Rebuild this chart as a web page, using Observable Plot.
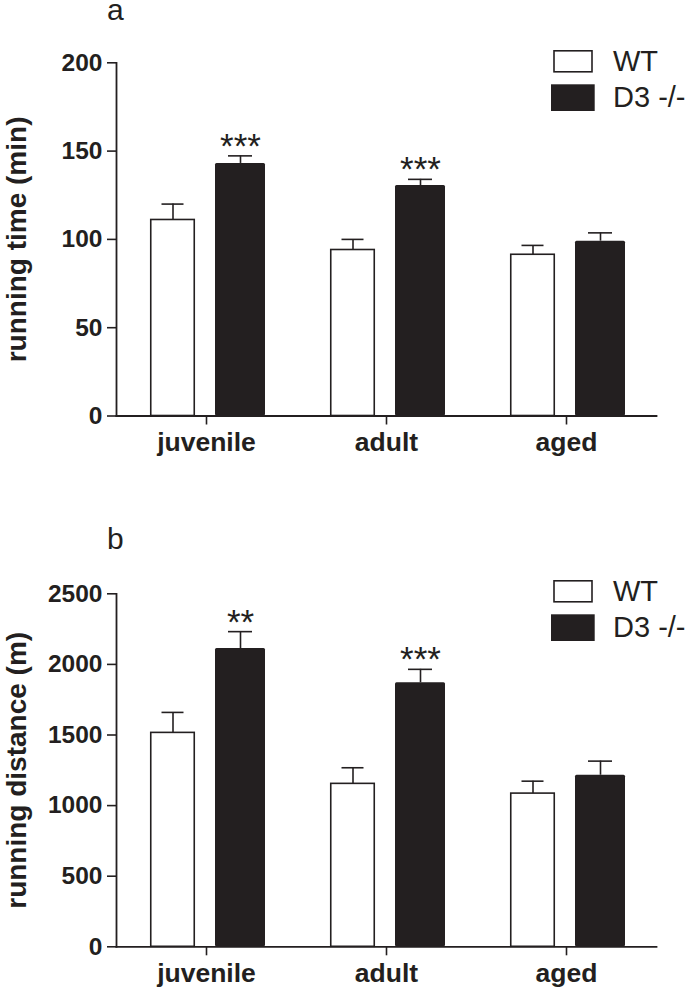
<!DOCTYPE html>
<html><head><meta charset="utf-8">
<script src="https://cdn.jsdelivr.net/npm/d3@7"></script>
<script src="https://cdn.jsdelivr.net/npm/@observablehq/plot@0.6"></script>
<style>
body{margin:0;background:#fff;}
#wrap{position:relative;width:685px;height:988px;overflow:hidden;font-family:"Liberation Sans",Arial,sans-serif;background:#fff;}
.panel{position:absolute;left:0;}
.overlay{position:absolute;left:0;pointer-events:none;}
</style></head><body><div id="wrap"></div>
<script>
// ---- data ----
const groups = ["juvenile", "adult", "aged"];
const series = ["WT", "D3 -/-"];
const seriesFill = ["white", "#231f20"];

const timeWT = [111, 94, 91.3];
const timeWTerr = [9, 6, 5.3];
const timeKO = [143, 130.5, 99];
const timeKOerr = [4.3, 3.5, 4.7];
const timeSig = ["***", "***", ""];
const timeTicks = [0, 50, 100, 150, 200];

const distWT = [1515, 1154, 1085];
const distWTerr = [145, 114, 88];
const distKO = [2112, 1870, 1215];
const distKOerr = [120, 95, 100];
const distSig = ["**", "***", ""];
const distTicks = [0, 500, 1000, 1500, 2000, 2500];

const ink = "#231f20";
const FONT = "Liberation Sans, Arial, Helvetica, sans-serif";

function rowsOf(wt, wte, ko, koe, sig) {
  return groups.flatMap((g, i) => [
    {group: g, series: series[0], mean: wt[i], err: wte[i], sig: ""},
    {group: g, series: series[1], mean: ko[i], err: koe[i], sig: sig[i]}
  ]);
}

function panel({rows, ticks, ymax, yLabel, marginTop, marginBottom, height}) {
  const wt = rows.filter(d => d.series === series[0]);
  const ko = rows.filter(d => d.series === series[1]);
  return Plot.plot({
    width: 685,
    height,
    marginLeft: 116,
    marginRight: 29,
    marginTop,
    marginBottom,
    style: {fontFamily: FONT, background: "white", color: ink, overflow: "visible"},
    x: {type: "band", domain: groups, padding: 0},
    y: {domain: [0, ymax]},
    marks: [
      Plot.barY(wt, {x: "group", y: "mean", fill: seriesFill[0], stroke: ink, strokeWidth: 1.6, insetLeft: 34.75, insetRight: 101.75}),
      Plot.barY(ko, {x: "group", y: "mean", fill: seriesFill[1], insetLeft: 99, insetRight: 31, rx: 1.5}),
      Plot.ruleX(wt, {x: "group", y1: "mean", y2: d => d.mean + d.err, dx: -33.5, stroke: ink, strokeWidth: 1.6}),
      Plot.ruleX(ko, {x: "group", y1: "mean", y2: d => d.mean + d.err, dx: 34, stroke: ink, strokeWidth: 1.6}),
      Plot.tickY(wt, {x: "group", y: d => d.mean + d.err, insetLeft: 45.5, insetRight: 112.5, stroke: ink, strokeWidth: 1.6}),
      Plot.tickY(ko, {x: "group", y: d => d.mean + d.err, insetLeft: 112, insetRight: 44, stroke: ink, strokeWidth: 1.6}),
      Plot.text(ko.filter(d => d.sig), {x: "group", y: d => d.mean + d.err, text: "sig", dx: 34, dy: 2, lineAnchor: "bottom", fontSize: 35, fill: ink}),
      Plot.axisY({ticks, tickFormat: d => String(d), tickSize: 9, tickPadding: 5, fontSize: 24.5, fontWeight: "bold", label: null, strokeWidth: 1.6, color: ink}),
      Plot.axisX({tickSize: 9, tickPadding: 7.5, fontSize: 26.5, fontWeight: "bold", label: null, strokeWidth: 1.6, color: ink}),
      Plot.frame({anchor: "left", stroke: ink, strokeWidth: 1.8}),
      Plot.frame({anchor: "bottom", stroke: ink, strokeWidth: 1.8}),
      Plot.text([yLabel], {frameAnchor: "left", text: d => d, rotate: -90, textAnchor: "middle", dx: -91, lineAnchor: "bottom", fontSize: 28, fontWeight: "bold", fill: ink})
    ]
  });
}

function overlay(top, letter, letterBaseline, legendTop) {
  const svg = d3.create("svg").attr("class", "overlay").attr("width", 685).attr("height", 494)
    .style("top", top + "px").style("font-family", FONT);
  svg.append("text").attr("x", 107).attr("y", letterBaseline).attr("font-size", 30).attr("fill", ink).text(letter);
  // legend
  const boxes = [
    {x: 554, y: legendTop + 0.8, w: 38, h: 21, fill: seriesFill[0], stroke: ink},
    {x: 551, y: legendTop + 34.3, w: 43.7, h: 26.7, fill: seriesFill[1], stroke: "none"}
  ];
  const baselines = [legendTop + 20.7, legendTop + 57.3];
  series.forEach((s, i) => {
    const b = boxes[i];
    svg.append("rect").attr("x", b.x).attr("y", b.y).attr("width", b.w).attr("height", b.h)
      .attr("fill", b.fill).attr("stroke", b.stroke).attr("stroke-width", 1.6);
    svg.append("text").attr("x", 613).attr("y", baselines[i]).attr("font-size", 29).attr("fill", ink).text(s);
  });
  return svg.node();
}

const wrap = document.getElementById("wrap");

const pa = panel({
  rows: rowsOf(timeWT, timeWTerr, timeKO, timeKOerr, timeSig),
  ticks: timeTicks, ymax: 200, yLabel: "running time (min)",
  marginTop: 62.3, marginBottom: 78.5, height: 494
});
pa.classList.add("panel"); pa.style.top = "0px";
wrap.appendChild(pa);
wrap.appendChild(overlay(0, "a", 19.5, 50));

const pb = panel({
  rows: rowsOf(distWT, distWTerr, distKO, distKOerr, distSig),
  ticks: distTicks, ymax: 2500, yLabel: "running distance (m)",
  marginTop: 99.3, marginBottom: 41.7, height: 494
});
pb.classList.add("panel"); pb.style.top = "494px";
wrap.appendChild(pb);
wrap.appendChild(overlay(494, "b", 55.3, 86));
</script>
</body></html>
